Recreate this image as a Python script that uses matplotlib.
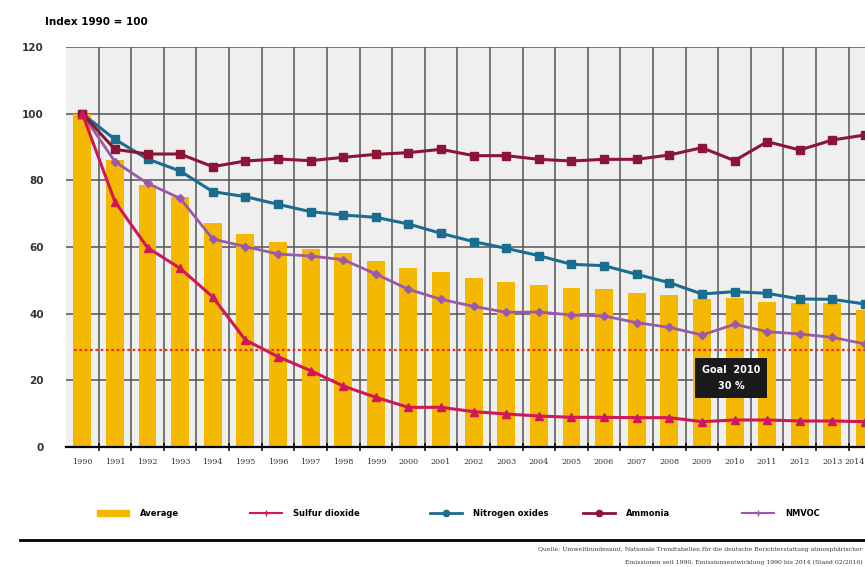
import matplotlib
matplotlib.use('Agg')
import matplotlib.pyplot as plt
import numpy as np
from matplotlib.lines import Line2D
from matplotlib.patches import Patch

# data (index 1990 = 100)
years = list(range(1990, 2015))
average = [100, 86, 78.6, 75, 67.3, 63.9, 61.6, 59.4, 58.2, 55.8, 53.8, 52.4, 50.8,
           49.4, 48.7, 47.6, 47.5, 46.3, 45.5, 44.3, 44.7, 43.6, 43.3, 43.2, 41]
sulfur = [100, 73.6, 59.8, 53.6, 45, 32.1, 27.1, 22.9, 18.3, 14.9, 11.9, 11.9, 10.6,
          9.9, 9.3, 8.9, 8.9, 8.8, 8.8, 7.6, 8.1, 8.1, 7.8, 7.8, 7.6]
nitrogen = [100, 92.3, 86.4, 82.8, 76.6, 75.1, 72.8, 70.6, 69.6, 68.9, 66.9, 64.1, 61.6,
            59.6, 57.4, 54.8, 54.4, 51.8, 49.3, 45.9, 46.6, 46.1, 44.4, 44.3, 42.9]
ammonia = [100, 89.3, 87.9, 87.9, 84.1, 85.8, 86.4, 85.9, 86.9, 87.8, 88.3, 89.3, 87.4,
           87.4, 86.3, 85.8, 86.3, 86.3, 87.6, 89.8, 85.9, 91.6, 89.1, 92.1, 93.6]
nmvoc = [100, 85.6, 79.1, 74.6, 62.4, 60.1, 57.9, 57.3, 56.2, 51.9, 47.3, 44.3, 42.2,
         40.4, 40.5, 39.6, 39.3, 37.3, 35.9, 33.6, 36.8, 34.6, 33.9, 32.9, 30.9]
goal = 29
series_names = ['Average', 'Sulfur dioxide', 'Nitrogen oxides', 'Ammonia', 'NMVOC']

c_avg = '#f5b800'
c_so2 = '#d0175a'
c_nox = '#1a6d8e'
c_nh3 = '#8a1536'
c_voc = '#9a5aa8'

fig = plt.figure(figsize=(8.65, 5.67), dpi=100)
ax = fig.add_axes([66/865, 1-447/567, (865-66)/865, 400/567])
ax.set_facecolor('#efefef')

x = np.arange(len(years))
ax.bar(x, average, width=0.55, color=c_avg, zorder=2)

# grid
for yv in range(20, 121, 20):
    ax.axhline(yv, color='#555555', lw=1.1, zorder=1)
for xv in x[:-1] + 0.5:
    ax.axvline(xv, color='#555555', lw=1.1, zorder=1)

ax.plot(x, nmvoc, color=c_voc, lw=2, marker='D', ms=4.5, zorder=3)
ax.plot(x, nitrogen, color=c_nox, lw=2.2, marker='s', ms=6, zorder=3)
ax.plot(x, ammonia, color=c_nh3, lw=2.2, marker='s', ms=6, zorder=3)
ax.plot(x, sulfur, color=c_so2, lw=2.2, marker='^', ms=6, zorder=4)

ax.plot([-0.25, 24], [goal, goal], color='#e8321e', lw=1.6, ls=(0, (1.2, 1.2)), zorder=5)
ax.text(19.9, 20.7, 'Goal  2010\n30 %', color='white', fontsize=7, fontweight='bold',
        ha='center', va='center', linespacing=1.8, zorder=6,
        bbox=dict(boxstyle='square,pad=0.7', fc='#1a1a1a', ec='none'))

ax.set_xlim(-0.5, 24.0)
ax.set_ylim(0, 120)
ax.set_yticks(range(0, 121, 20))
ax.set_xticks(x)
ax.set_xticklabels([str(y) for y in years], fontsize=5.8, color='#333333', family='DejaVu Serif')
# last year sits on the figure edge, keep its label inside
ax.get_xticklabels()[-1].set_horizontalalignment('right')
ax.set_xticks(x[:-1] + 0.5, minor=True)
ax.tick_params(axis='x', which='major', length=0, pad=8)
ax.tick_params(axis='x', which='minor', length=6, direction='inout', width=1.1)
ax.tick_params(axis='y', length=0, pad=16, labelsize=7.5, labelcolor='#333333')
for lab in ax.get_yticklabels():
    lab.set_fontweight('bold')
for side in ['top', 'right', 'left']:
    ax.spines[side].set_visible(False)
ax.spines['bottom'].set_linewidth(1.6)

fig.text(45/865, 1-22/567, 'Index 1990 = 100', fontsize=7.5, fontweight='bold', va='center')

# legend: one small legend per entry so the gaps follow the reference
handles = [
    Patch(color=c_avg),
    Line2D([], [], color=c_so2, lw=1.5, marker='+', ms=4),
    Line2D([], [], color=c_nox, lw=2, marker='o', ms=4.5),
    Line2D([], [], color=c_nh3, lw=2, marker='o', ms=4.5),
    Line2D([], [], color=c_voc, lw=1.5, marker='+', ms=4),
]
leg_x = [97, 250, 430, 583, 742]
for h, name, lx in zip(handles, series_names, leg_x):
    fig.legend([h], [name], loc='center left', bbox_to_anchor=(lx/865, 1-513/567),
               frameon=False, handlelength=3.8, handletextpad=1.4,
               borderpad=0, borderaxespad=0, prop={'size': 6, 'weight': 'bold'})

fig.add_artist(Line2D([20/865, 1], [1-540/567, 1-540/567], color='black', lw=2))
fig.text(0.997, 1-550/567,
         'Quelle: Umweltbundesamt, Nationale Trendtabellen für die deutsche Berichterstattung atmosphärischer',
         fontsize=4.4, ha='right', va='center', family='DejaVu Serif', color='#333333')
fig.text(0.997, 1-562/567,
         'Emissionen seit 1990, Emissionsentwicklung 1990 bis 2014 (Stand 02/2016)',
         fontsize=4.4, ha='right', va='center', family='DejaVu Serif', color='#333333')

fig.savefig('out.png', dpi=100)
